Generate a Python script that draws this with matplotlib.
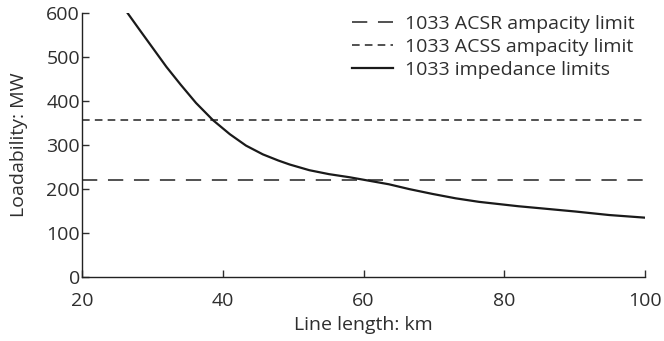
import matplotlib
matplotlib.use("Agg")
import matplotlib.pyplot as plt

# ── data ─────────────────────────────────────────────────────────────────────
length_km = [26.5, 28.2, 30.1, 32.0, 34.0, 36.2, 38.6, 41.0, 43.3, 45.7,
             47.9, 49.5, 52.3, 55.1, 58.0, 60.8, 63.6, 66.5, 69.8, 73.1,
             76.4, 79.2, 82.0, 85.4, 90.1, 94.9, 100.0]
impedance_mw = [600, 562, 520, 478, 438, 396, 357, 325, 299, 279,
                265, 256, 243, 234, 227, 219, 211, 200, 189, 179,
                171, 166, 161, 156, 149, 141, 135]
acsr_limit = 221
acss_limit = 357

x_ticks = [20, 40, 60, 80, 100]
y_ticks = [0, 100, 200, 300, 400, 500, 600]

TEXT = "#2e2e2e"
FS = 14
plt.rcParams.update({
    "font.family": ["Open Sans", "DejaVu Sans"],
    "font.size": FS,
    "text.color": TEXT,
    "axes.labelcolor": TEXT,
    "xtick.color": TEXT,
    "ytick.color": TEXT,
})

fig = plt.figure(figsize=(6.64, 3.41), dpi=100)
ax = fig.add_axes([0.1235, 0.1877, 0.8479, 0.7733])

ax.axhline(acsr_limit, color="#222222", linewidth=1.1, dashes=(10, 7),
           label="1033 ACSR ampacity limit")
ax.axhline(acss_limit, color="#222222", linewidth=1.1, dashes=(5, 3.4),
           label="1033 ACSS ampacity limit")
ax.plot(length_km, impedance_mw, color="#1a1a1a", linewidth=1.6,
        label="1033 impedance limits")

ax.set_xlim(20, 100)
ax.set_ylim(0, 600)
ax.set_xticks(x_ticks)
ax.set_yticks(y_ticks)
ax.tick_params(direction="in", length=5, width=1, labelsize=FS)
ax.tick_params(axis="x", pad=11)
ax.tick_params(axis="y", pad=1.5)
for side in ("top", "right"):
    ax.spines[side].set_visible(False)
for side in ("left", "bottom"):
    ax.spines[side].set_color("#222222")
    ax.spines[side].set_linewidth(1)

ax.set_xlabel("Line length: km", fontsize=FS, labelpad=4)
ax.set_ylabel("Loadability: MW", fontsize=FS, labelpad=13)

ax.legend(loc="upper right", frameon=False, fontsize=FS, handlelength=2.1,
          handletextpad=0.6, labelspacing=0.25, borderaxespad=0.0,
          bbox_to_anchor=(0.995, 1.022))

fig.savefig("out.png", dpi=100)
